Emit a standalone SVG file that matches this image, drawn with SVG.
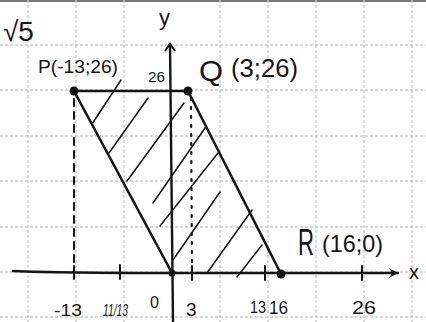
<svg xmlns="http://www.w3.org/2000/svg" width="426" height="322" viewBox="0 0 426 322">
<style>
.grid{stroke:#c9c9c9;stroke-width:1.3;stroke-dasharray:3 2;fill:none}
.ink{stroke:#151515;fill:none;stroke-linecap:round;stroke-linejoin:round}
.main{stroke-width:2.6}
.hatch{stroke-width:1.5}
.axis{stroke-width:2.4}
.tick{stroke-width:2}
.dash{stroke-width:2;stroke-dasharray:7 6}
.dot{stroke-width:2.2;stroke-dasharray:2 7}
.pt{fill:#111}
text{font-family:"Liberation Sans","DejaVu Sans",sans-serif;fill:#151515}
</style>
<defs>
<marker id="arrX" markerWidth="12" markerHeight="12" refX="10" refY="6" orient="auto" markerUnits="userSpaceOnUse">
<path d="M1,1 L10,6 L1,11 L4,6 Z" fill="#151515"/>
</marker>
<marker id="arrY" markerWidth="14" markerHeight="14" refX="7" refY="2" orient="0" markerUnits="userSpaceOnUse">
<path d="M2,9 L7,2 L12,9" fill="none" stroke="#151515" stroke-width="2"/>
</marker>
</defs>
<rect width="426" height="322" fill="#ffffff"/>
<g id="grid">
<line class="grid" x1="0" y1="1" x2="426" y2="1" style="stroke:#777;stroke-dasharray:none;stroke-width:2"/>
<line class="grid" x1="0" y1="45" x2="426" y2="45"/>
<line class="grid" x1="0" y1="90" x2="426" y2="90"/>
<line class="grid" x1="0" y1="136" x2="426" y2="136"/>
<line class="grid" x1="0" y1="181" x2="426" y2="181"/>
<line class="grid" x1="0" y1="227" x2="426" y2="227"/>
<line class="grid" x1="0" y1="272" x2="426" y2="272"/>
<line class="grid" x1="0" y1="317" x2="426" y2="317"/>
<line class="grid" x1="28" y1="0" x2="28" y2="322"/>
<line class="grid" x1="76" y1="0" x2="76" y2="322"/>
<line class="grid" x1="124" y1="0" x2="124" y2="322"/>
<line class="grid" x1="220" y1="0" x2="220" y2="322"/>
<line class="grid" x1="268" y1="0" x2="268" y2="322"/>
<line class="grid" x1="316" y1="0" x2="316" y2="322"/>
<line class="grid" x1="364" y1="0" x2="364" y2="322"/>
<line class="grid" x1="412" y1="0" x2="412" y2="322"/>
</g>
<g id="title"><text x="3" y="41" font-size="28">√5</text></g>
<g id="hatching" class="ink hatch">
<line x1="121" y1="80" x2="92" y2="124"/>
<line x1="148" y1="98" x2="109" y2="153"/>
<line x1="184" y1="103" x2="127" y2="181"/>
<line x1="205" y1="128" x2="153" y2="203"/>
<line x1="218" y1="153" x2="160" y2="226"/>
<line x1="220" y1="192" x2="173" y2="260"/>
<line x1="252" y1="210" x2="207" y2="273"/>
<line x1="262" y1="245" x2="237" y2="277"/>
</g>
<g id="connectors" class="ink">
<path class="axis" d="M13,271 Q60,273 172,273 L398,273" marker-end="url(#arrX)"/>
<path class="axis" d="M173,322 L170,44" marker-end="url(#arrY)"/>
<line class="tick" x1="74" y1="266" x2="74" y2="279"/>
<line class="tick" x1="120" y1="265" x2="120" y2="279"/>
<line class="tick" x1="192" y1="266" x2="192" y2="280"/>
<line class="tick" x1="265" y1="266" x2="265" y2="280"/>
<line class="tick" x1="362" y1="266" x2="362" y2="280"/>
<line class="main" x1="74" y1="91" x2="188" y2="91"/>
<line class="main" x1="74" y1="91" x2="172" y2="273"/>
<line class="main" x1="188" y1="91" x2="281" y2="274"/>
<line class="dash" x1="74" y1="99" x2="74" y2="270"/>
<line class="dot" x1="191" y1="98" x2="192" y2="270"/>
</g>
<g id="P"><circle class="pt" cx="74" cy="91" r="4.5"/><text x="38" y="73" font-size="19" textLength="80" lengthAdjust="spacingAndGlyphs">P(-13;26)</text></g>
<g id="Q"><circle class="pt" cx="188" cy="91" r="4.5"/><text x="199" y="81" font-size="30" textLength="24" lengthAdjust="spacingAndGlyphs">Q</text><text x="231" y="77" font-size="26" textLength="67" lengthAdjust="spacingAndGlyphs">(3;26)</text></g>
<g id="R"><circle class="pt" cx="281" cy="274" r="4.5"/><text x="298" y="255" font-size="36" textLength="16" lengthAdjust="spacingAndGlyphs">R</text><text x="322" y="252" font-size="24" textLength="61" lengthAdjust="spacingAndGlyphs">(16;0)</text></g>
<g id="O"><circle class="pt" cx="172" cy="273" r="3.5"/><text x="150" y="308" font-size="16">0</text></g>
<g id="labels">
<text x="159" y="25" font-size="22">y</text>
<text x="409" y="279" font-size="20">x</text>
<text x="148" y="82" font-size="15" textLength="17" lengthAdjust="spacingAndGlyphs">26</text>
<text x="54" y="316" font-size="17" textLength="28" lengthAdjust="spacingAndGlyphs">-13</text>
<text x="103" y="316" font-size="16" textLength="25" lengthAdjust="spacingAndGlyphs" font-style="italic">11/13</text>
<text x="186" y="316" font-size="19">3</text>
<text x="250" y="313" font-size="17" textLength="16" lengthAdjust="spacingAndGlyphs">13</text>
<text x="269" y="314" font-size="19" textLength="19" lengthAdjust="spacingAndGlyphs">16</text>
<text x="352" y="314" font-size="18" textLength="24" lengthAdjust="spacingAndGlyphs">26</text>
</g>
</svg>
